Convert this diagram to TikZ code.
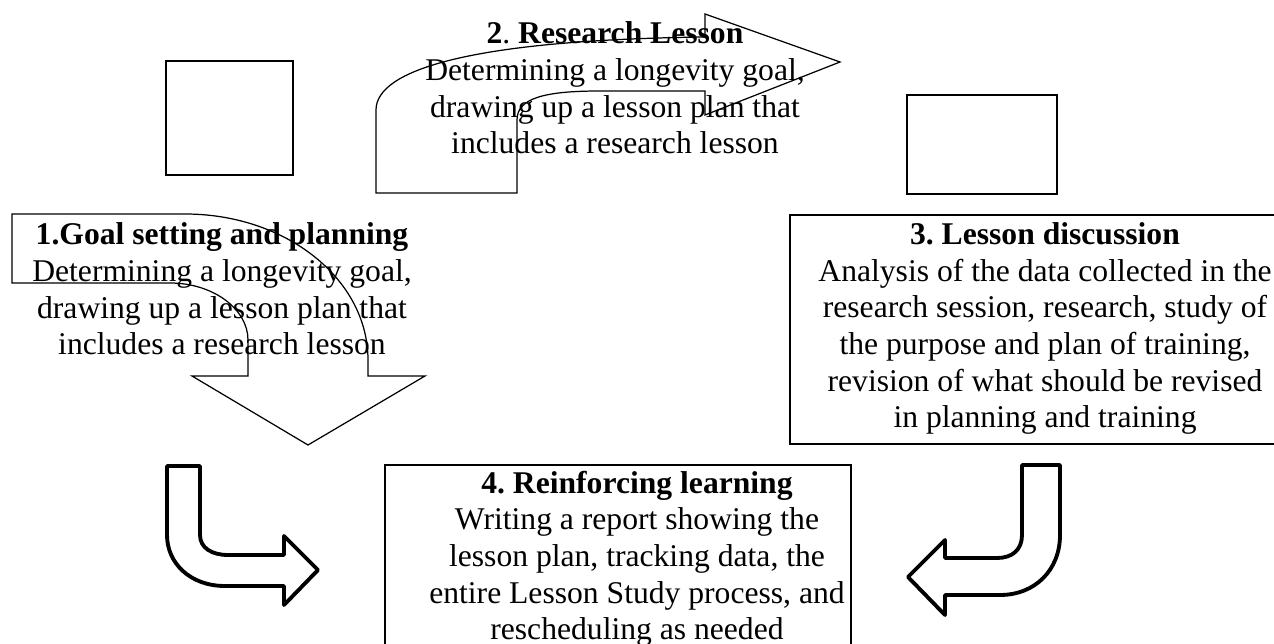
\documentclass[tikz,border=0pt]{standalone}
\usepackage{fontspec}
\setmainfont{Liberation Serif}
\frenchspacing

\tikzset{
  txt/.style={align=center, anchor=base, inner sep=0pt,
    font=\fontsize{18pt}{20.9pt}\selectfont},
  boxline/.style={draw, line width=0.75pt},
  bendarrow/.style={draw, line width=0.7pt},
  turnarrow/.style={draw, line width=2.2pt, line join=round},
}

\begin{document}
\begin{tikzpicture}[x=0.02cm, y=-0.02cm]
  \useasboundingbox (0,0) rectangle (1274,644);

  % empty boxes
  \draw[boxline] (166,61) rectangle (293,175);
  \draw[boxline] (907,95) rectangle (1057,194);

  % framed steps 3 and 4
  \draw[boxline] (790,215) rectangle (1290,444);
  \draw[boxline] (385,465) rectangle (851,670);

  % bent block arrows
  \draw[bendarrow] (12,214) -- (185,214) .. controls (286,214) and (368,279) .. (368,360)
    -- (368,376) -- (425,376) -- (308,445) -- (192,376) -- (248,376) -- (248,340)
    .. controls (248,309) and (213,283) .. (170,283) -- (12,283) -- cycle;
  \draw[bendarrow] (376,193) -- (376,110) .. controls (376,70) and (470,40) .. (705,37)
    -- (705,14) -- (840,62) -- (705,115) -- (705,91) -- (600,91)
    .. controls (545,91) and (517,98) .. (517,120) -- (517,193) -- cycle;

  % u-turn arrows
  \draw[turnarrow] (167,466) -- (200,466) -- (200,535) .. controls (200,548) and (212,555) .. (228,555)
    -- (284,555) -- (284,536) -- (318,570) -- (284,605) -- (284,586) -- (225,586)
    .. controls (190,586) and (167,563) .. (167,535) -- cycle;
  \draw[turnarrow] (1022,465) -- (1060,465) -- (1060,535) .. controls (1060,570) and (1035,595) .. (1000,595)
    -- (945,595) -- (945,615) -- (908,577) -- (945,540) -- (945,558) -- (997,558)
    .. controls (1012,558) and (1022,550) .. (1022,535) -- cycle;

  % step texts (base = last line)
  \node[txt] (goal) at (222,355) {\textbf{1.Goal setting and planning}\\
    Determining a longevity goal,\\ drawing up a lesson plan that\\ includes a research lesson};
  \node[txt] (research) at (615,154) {\textbf{2}. \textbf{Research Lesson}\\
    Determining a longevity goal,\\ drawing up a lesson plan that\\ includes a research lesson};
  \node[txt] (discussion) at (1045,428) {\textbf{3. Lesson discussion}\\
    Analysis of the data collected in the\\ research session, research, study of\\
    the purpose and plan of training,\\ revision of what should be revised\\ in planning and training};
  \node[txt] (reinforce) at (637,640) {\textbf{4. Reinforcing learning}\\
    Writing a report showing the\\ lesson plan, tracking data, the\\
    entire Lesson Study process, and\\ rescheduling as needed};
\end{tikzpicture}
\end{document}
